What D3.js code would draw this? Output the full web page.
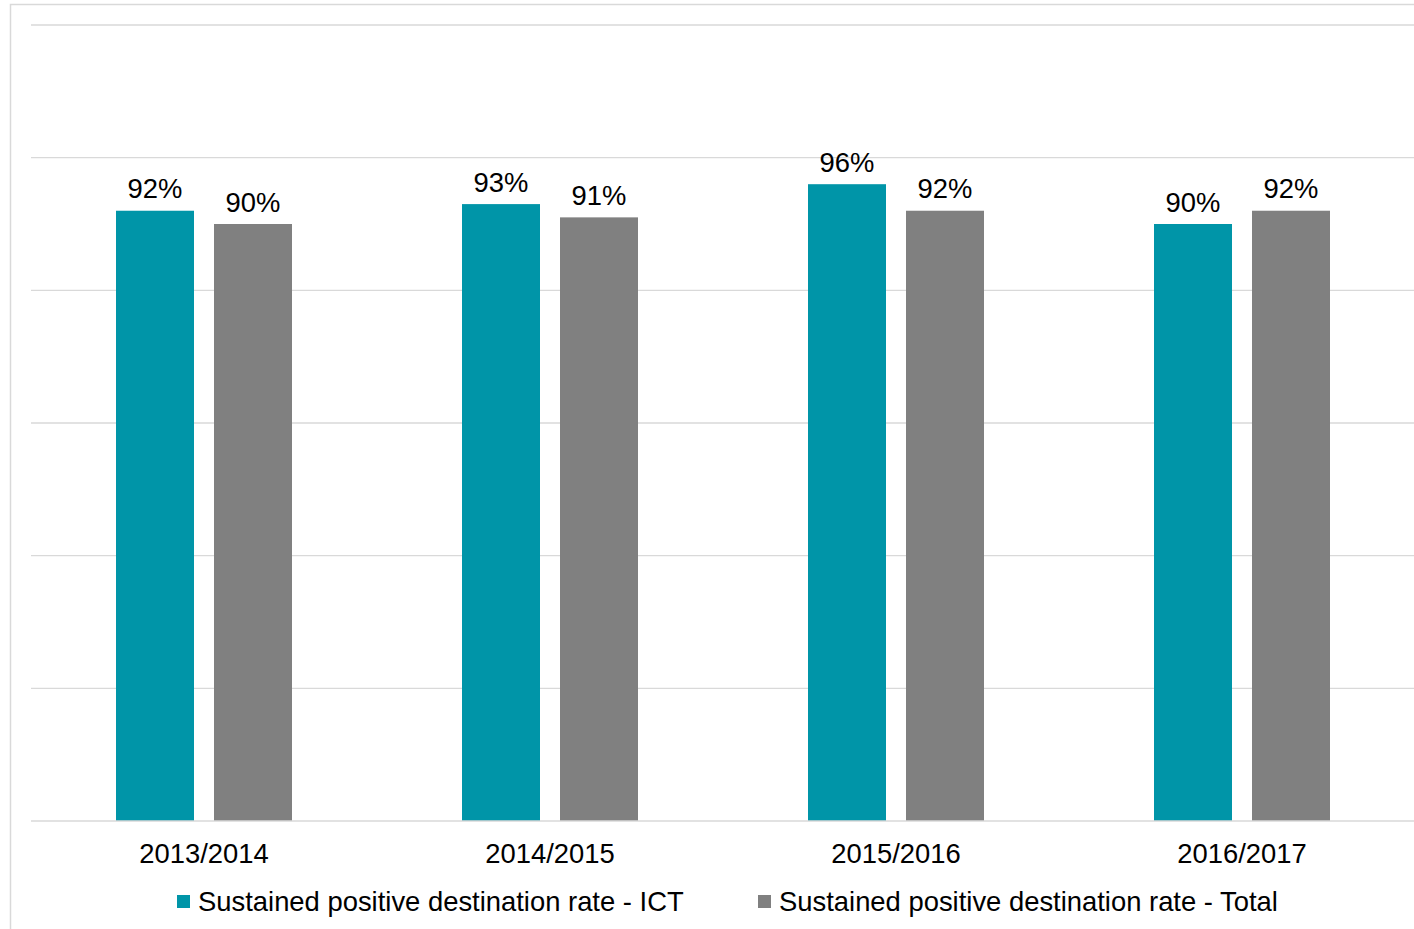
<!DOCTYPE html>
<html>
<head>
<meta charset="utf-8">
<script src="https://cdn.jsdelivr.net/npm/d3@7"></script>
<style>
  html, body { margin: 0; padding: 0; background: #fff; }
  svg { display: block; font-family: "Liberation Sans", Arial, sans-serif; }
</style>
</head>
<body>
<svg id="chart" width="1414" height="929"></svg>
<script>
// Academic years on the x axis
const years = ["2013/2014", "2014/2015", "2015/2016", "2016/2017"];
// Sustained positive destination rate, percent
const ictRate = [92, 93, 96, 90];
const totalRate = [90, 91, 92, 92];
const seriesNames = [
  "Sustained positive destination rate - ICT",
  "Sustained positive destination rate - Total"
];
const seriesColors = ["#0095A8", "#808080"];
const yTicks = [0, 20, 40, 60, 80, 100, 120];

const svg = d3.select("#chart");
const plot = { left: 31, right: 1415, top: 25, bottom: 821 };
const fontSize = 27.4;

// Outer chart frame
svg.append("rect")
  .attr("x", 10.5).attr("y", 4.5)
  .attr("width", 1440).attr("height", 960)
  .attr("fill", "none").attr("stroke", "#d9d9d9").attr("stroke-width", 1.5);

const x = d3.scaleBand().domain(years).range([plot.left, plot.right]).paddingInner(0).paddingOuter(0);
const y = d3.scaleLinear().domain([0, 120]).range([plot.bottom, plot.top]);

// Horizontal gridlines
svg.append("g")
  .selectAll("line")
  .data(yTicks.slice(1))
  .join("line")
  .attr("x1", plot.left).attr("x2", plot.right)
  .attr("y1", d => y(d)).attr("y2", d => y(d))
  .attr("stroke", "#d9d9d9").attr("stroke-width", 1.3);

const series = [ictRate, totalRate];
const barW = 78, gap = 20;
const offsets = [-(gap / 2 + barW), gap / 2];

series.forEach((vals, si) => {
  const g = svg.append("g");
  g.selectAll("rect")
    .data(vals)
    .join("rect")
    .attr("x", (d, i) => x(years[i]) + x.bandwidth() / 2 + offsets[si])
    .attr("y", d => y(d))
    .attr("width", barW)
    .attr("height", d => y(0) - y(d))
    .attr("fill", seriesColors[si]);
  g.selectAll("text")
    .data(vals)
    .join("text")
    .attr("x", (d, i) => x(years[i]) + x.bandwidth() / 2 + offsets[si] + barW / 2)
    .attr("y", d => y(d) - 12.5)
    .attr("text-anchor", "middle")
    .attr("font-size", fontSize)
    .attr("fill", "#000")
    .text(d => d + "%");
});

// Category axis
const xAxis = svg.append("g")
  .attr("transform", `translate(0,${plot.bottom})`)
  .call(d3.axisBottom(x).tickSize(0).tickPadding(0));
xAxis.select(".domain").attr("stroke", "#d9d9d9").attr("stroke-width", 1.5)
  .attr("d", `M${plot.left},0H${plot.right}`);
xAxis.selectAll(".tick text")
  .attr("dy", 0).attr("y", 42)
  .attr("font-size", fontSize)
  .attr("font-family", "Liberation Sans, Arial, sans-serif")
  .attr("fill", "#000");

// Legend
const legendX = [177, 758];
const legend = svg.append("g");
seriesNames.forEach((name, i) => {
  legend.append("rect")
    .attr("x", legendX[i]).attr("y", 895)
    .attr("width", 13).attr("height", 13)
    .attr("fill", seriesColors[i]);
  legend.append("text")
    .attr("x", legendX[i] + 21).attr("y", 911)
    .attr("font-size", fontSize)
    .attr("fill", "#000")
    .text(name);
});
</script>
</body>
</html>
